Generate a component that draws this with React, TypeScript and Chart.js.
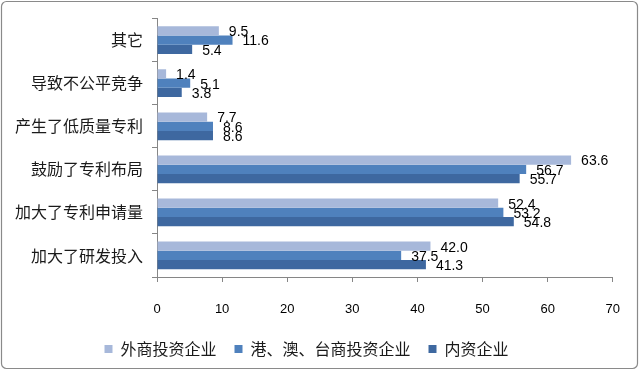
import React, { useEffect, useRef } from "react";
import { Chart, registerables } from "chart.js";

Chart.register(...registerables);

const categories = ["其它", "导致不公平竞争", "产生了低质量专利", "鼓励了专利布局", "加大了专利申请量", "加大了研发投入"];
const seriesNames = ["外商投资企业", "港、澳、台商投资企业", "内资企业"];
const foreignValues = [9.5, 1.4, 7.7, 63.6, 52.4, 42.0];
const hmtValues = [11.6, 5.1, 8.6, 56.7, 53.2, 37.5];
const domesticValues = [5.4, 3.8, 8.6, 55.7, 54.8, 41.3];
const xTicks = [0, 10, 20, 30, 40, 50, 60, 70];

const colors = ["#a7b8da", "#4f81bd", "#3e68a0"];
const CJK = "'Noto Sans CJK SC', sans-serif";
const NUM = "'Liberation Sans', 'Noto Sans CJK SC', sans-serif";

const frame = {
  id: "frame",
  beforeDraw(chart: any) {
    const ctx = chart.ctx;
    ctx.save();
    ctx.fillStyle = "#ffffff";
    ctx.fillRect(0, 0, chart.width, chart.height);
    ctx.strokeStyle = "#8a8a8a";
    ctx.lineWidth = 1.2;
    const x = 1.5, y = 1.5, w = 636, h = 367, r = 5;
    ctx.beginPath();
    ctx.moveTo(x + r, y);
    ctx.lineTo(x + w - r, y);
    ctx.arcTo(x + w, y, x + w, y + r, r);
    ctx.lineTo(x + w, y + h - r);
    ctx.arcTo(x + w, y + h, x + w - r, y + h, r);
    ctx.lineTo(x + r, y + h);
    ctx.arcTo(x, y + h, x, y + h - r, r);
    ctx.lineTo(x, y + r);
    ctx.arcTo(x, y, x + r, y, r);
    ctx.closePath();
    ctx.stroke();
    ctx.restore();
  },
};

const valueLabels = {
  id: "valueLabels",
  afterDatasetsDraw(chart: any) {
    const ctx = chart.ctx;
    ctx.save();
    ctx.font = `14px ${NUM}`;
    ctx.fillStyle = "#000000";
    ctx.textAlign = "left";
    ctx.textBaseline = "middle";
    chart.data.datasets.forEach((ds: any, di: number) => {
      const meta = chart.getDatasetMeta(di);
      meta.data.forEach((el: any, i: number) => {
        const v = ds.data[i];
        ctx.fillText(Number(v).toFixed(1), el.x + 10, el.y + 1.5);
      });
    });
    ctx.restore();
  },
};

export default function App() {
  const ref = useRef<HTMLCanvasElement | null>(null);
  useEffect(() => {
    if (!ref.current) return;
    const chart = new Chart(ref.current, {
      type: "bar",
      data: {
        labels: categories,
        datasets: [
          { label: seriesNames[0], data: foreignValues, backgroundColor: colors[0], borderWidth: 0 },
          { label: seriesNames[1], data: hmtValues, backgroundColor: colors[1], borderWidth: 0 },
          { label: seriesNames[2], data: domesticValues, backgroundColor: colors[2], borderWidth: 0 },
        ],
      },
      options: {
        indexAxis: "y",
        responsive: false,
        animation: false,
        devicePixelRatio: 1,
        layout: { padding: { top: 13, right: 27, left: 0, bottom: 4 } },
        datasets: { bar: { categoryPercentage: 0.645, barPercentage: 1 } },
        scales: {
          y: {
            type: "category",
            offset: true,
            afterFit: (s: any) => { s.width = 157; },
            grid: { drawOnChartArea: false, offset: true, tickLength: 5, color: "#868686" },
            border: { color: "#868686" },
            ticks: { font: { family: CJK, size: 16 }, color: "#1a1a1a", padding: 9 },
          },
          x: {
            min: 0,
            max: 70,
            afterBuildTicks: (s: any) => { s.ticks = xTicks.map((v) => ({ value: v })); },
            afterFit: (s: any) => { s.height = 46; },
            grid: { drawOnChartArea: false, tickLength: 5, color: "#868686" },
            border: { color: "#868686" },
            ticks: { font: { family: NUM, size: 13 }, color: "#000000", padding: 20 },
          },
        },
        plugins: {
          legend: {
            position: "bottom",
            labels: {
              boxWidth: 8,
              boxHeight: 8,
              padding: 18,
              font: { family: CJK, size: 16 },
              color: "#1a1a1a",
            },
          },
          tooltip: { enabled: false },
        },
      },
      plugins: [frame, valueLabels],
    } as any);
    return () => chart.destroy();
  }, []);
  return (
    <div style={{ position: "fixed", left: 0, top: 0, width: 640, height: 371 }}>
      <canvas ref={ref} width={640} height={371} />
    </div>
  );
}
